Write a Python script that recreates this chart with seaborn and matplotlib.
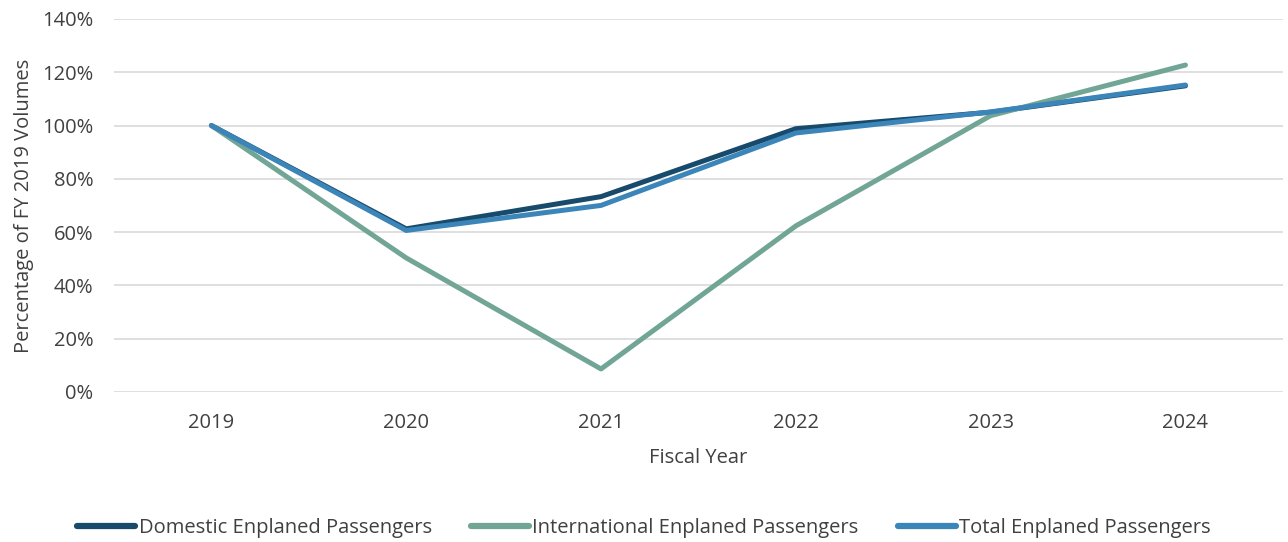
import matplotlib
matplotlib.use("Agg")
import matplotlib.pyplot as plt
import seaborn as sns
import pandas as pd
from matplotlib.ticker import FuncFormatter

years = ["2019", "2020", "2021", "2022", "2023", "2024"]
domestic = [100.0, 61.2, 73.3, 98.8, 105.0, 114.9]
international = [100.0, 50.3, 8.6, 62.3, 103.7, 122.7]
total = [100.0, 60.6, 70.0, 97.2, 105.1, 115.2]

series_names = ["Domestic Enplaned Passengers",
                "International Enplaned Passengers",
                "Total Enplaned Passengers"]
colors = ["#174a6b", "#71a595", "#3b85b9"]

df = pd.concat([
    pd.DataFrame({"Fiscal Year": years, "value": vals, "series": name})
    for name, vals in zip(series_names, [domestic, international, total])
], ignore_index=True)
df["x"] = df["Fiscal Year"].map({y: i for i, y in enumerate(years)})

sns.set_style("white")
plt.rcParams["font.family"] = ["Open Sans", "DejaVu Sans"]

fs = 14.5
txt = "#404040"

fig = plt.figure(figsize=(12.88, 5.42), dpi=100)
ax = fig.add_axes([0.0885, 0.277, 0.9075, 0.688])

sns.lineplot(data=df, x="x", y="value", hue="series", hue_order=series_names,
             palette=colors, linewidth=3.6, ax=ax, legend=False,
             solid_capstyle="round", solid_joinstyle="round")

ax.set_xlim(-0.5, len(years) - 0.5)
ax.set_ylim(0, 140)
ax.set_yticks(range(0, 141, 20))
ax.yaxis.set_major_formatter(FuncFormatter(lambda v, p: f"{v:.0f}%"))
ax.set_xticks(range(len(years)))
ax.set_xticklabels(years)
ax.grid(axis="y", color="#d9d9d9", linewidth=1.2)
ax.set_axisbelow(True)
for s in ax.spines.values():
    s.set_visible(False)
ax.tick_params(axis="both", length=0, labelsize=fs, colors=txt)
ax.tick_params(axis="x", pad=15)
ax.tick_params(axis="y", pad=15)
ax.set_xlabel("Fiscal Year", fontsize=fs, color=txt, labelpad=11)
ax.set_ylabel("Percentage of FY 2019 Volumes", fontsize=fs, color=txt, labelpad=6)

handles = [plt.Line2D([0], [0], color=c, linewidth=4.5, solid_capstyle="round")
           for c in colors]
fig.legend(handles, series_names, loc="center", bbox_to_anchor=(0.5, 0.025),
           ncol=3, frameon=False, fontsize=fs, handlelength=2.9,
           handletextpad=0.15, columnspacing=1.95, labelcolor=txt)

fig.savefig("out.png", dpi=100)
